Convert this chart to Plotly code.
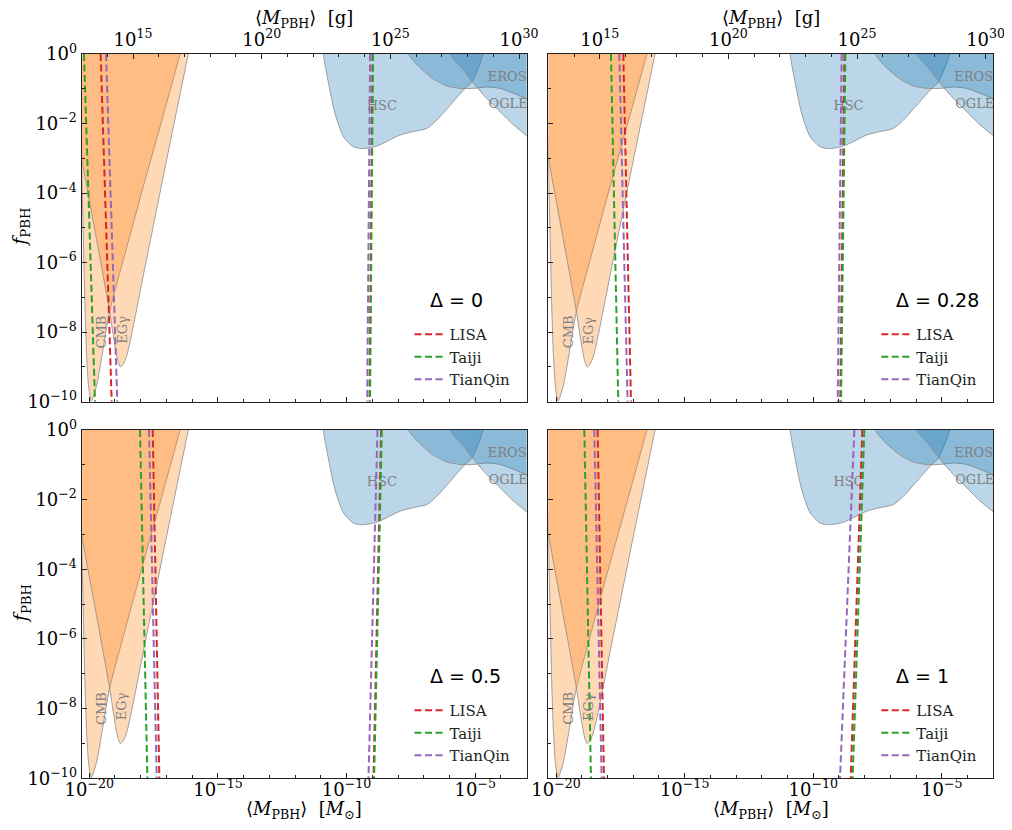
import plotly.graph_objects as go

# ---------------- data (log10 units) ----------------
LOG_MSUN_IN_G = 33.2986          # log10(M_sun / g)
x_range = [-20.301, -3.0]        # log10(<M_PBH>/M_sun)
y_range = [-10.0, 0.0]           # log10(f_PBH)

panel_deltas = ["0", "0.28", "0.5", "1"]

# evaporation constraints
cmb_logm = [-20.45, -20.36, -20.30, -20.23, -20.17, -20.10, -20.02, -19.92,
            -19.72, -19.50, -19.22, -18.52, -17.82, -17.12, -16.47, -16.10]
cmb_logf = [1.0, -1.5, -3.1, -5.3, -7.2, -8.7, -9.6, -9.98,
            -9.55, -8.65, -7.45, -5.5, -3.6, -1.75, 0.0, 1.0]
egg_logm = [-21.29, -20.30, -19.75, -19.22, -19.00, -18.88, -18.79, -18.68,
            -18.55, -17.80, -16.98, -16.15, -15.87]
egg_logf = [1.0, -3.0, -5.2, -7.36, -8.4, -8.85, -9.0, -8.92,
            -8.7, -6.0, -3.0, 0.0, 1.0]

# microlensing constraints
hsc_logm = [-10.95, -10.90, -10.70, -10.45, -10.12, -9.73, -9.41, -8.83,
            -7.92, -7.40, -6.88, -6.49, -5.97, -5.46, -5.13, -4.70, -4.60]
hsc_logf = [1.0, 0.0, -0.84, -1.71, -2.38, -2.67, -2.72, -2.65,
            -2.33, -2.23, -2.14, -1.90, -1.47, -1.04, -0.80, 0.0, 1.0]
eros_logm = [-7.75, -7.59, -7.14, -6.62, -6.10, -5.58, -5.07, -4.55,
             -4.03, -3.51, -2.99, -2.50, -2.50]
eros_logf = [1.0, 0.0, -0.40, -0.72, -0.92, -0.99, -0.99, -0.95,
             -0.99, -1.13, -1.30, -1.50, 1.0]
ogle_logm = [-6.10, -5.97, -5.46, -5.07, -4.55, -4.03, -3.51, -2.99, -2.50, -2.50]
ogle_logf = [1.0, 0.0, -0.46, -0.84, -1.28, -1.66, -2.04, -2.36, -2.65, 1.0]

# GW detector bounds, per panel (Delta = 0, 0.28, 0.5, 1):
# log10 mass (M_sun) of each dashed line at f=1 (top) and f=1e-10 (bottom)
lisa_light_top    = [-19.556, -17.385, -17.534, -18.383]
lisa_light_bottom = [-19.128, -17.087, -17.275, -18.137]
lisa_heavy_top    = [-8.99, -8.79, -8.657, -8.091]
lisa_heavy_bottom = [-9.11, -8.95, -8.955, -8.545]
taiji_light_top    = [-20.204, -17.865, -18.027, -18.901]
taiji_light_bottom = [-19.776, -17.580, -17.741, -18.642]
taiji_heavy_top    = [-8.97, -8.75, -8.63, -8.014]
taiji_heavy_bottom = [-9.09, -8.92, -8.93, -8.467]
tianqin_light_top    = [-19.348, -17.540, -17.677, -18.512]
tianqin_light_bottom = [-18.908, -17.217, -17.378, -18.227]
tianqin_heavy_top    = [-9.085, -8.895, -8.799, -8.402]
tianqin_heavy_bottom = [-9.20, -9.05, -9.149, -8.96]

detectors = ["LISA", "Taiji", "TianQin"]
det_colors = ["#d62728", "#2ca02c", "#9467bd"]
det_lines = [
    (lisa_light_top, lisa_light_bottom, lisa_heavy_top, lisa_heavy_bottom),
    (taiji_light_top, taiji_light_bottom, taiji_heavy_top, taiji_heavy_bottom),
    (tianqin_light_top, tianqin_light_bottom, tianqin_heavy_top, tianqin_heavy_bottom),
]

# region labels (log10 M, log10 f)
labels_h = ["HSC", "EROS", "OGLE"]
labels_h_logm = [-8.63, -3.76, -3.72]
labels_h_logf = [-1.51, -0.67, -1.47]
labels_v = ["CMB", "EGγ"]
labels_v_logm = [-19.52, -18.74]
labels_v_logf = [-7.99, -7.94]

# tick labels
x_major = [-20, -15, -10, -5]
x_major_text = ["10<sup>−20</sup>", "10<sup>−15</sup>", "10<sup>−10</sup>", "10<sup>−5</sup>"]
g_major = [15, 20, 25, 30]
g_major_text = ["10<sup>15</sup>", "10<sup>20</sup>", "10<sup>25</sup>", "10<sup>30</sup>"]
y_major = [0, -2, -4, -6, -8, -10]
y_major_text = ["10<sup>0</sup>", "10<sup>−2</sup>", "10<sup>−4</sup>", "10<sup>−6</sup>",
                "10<sup>−8</sup>", "10<sup>−10</sup>"]

# ---------------- layout geometry (page pixels) ----------------
OFF = 8                 # page body margin around the figure
W, H = 996, 814         # figure size so that the page is 1012 x 830
col_px = [(81.5, 526.7), (548.3, 993.3)]
row_px = [(54.0, 401.7), (430.0, 778.3)]


def fx(px):
    return (px - OFF) / W


def fy(py):
    return 1 - (py - OFF) / H


SERIF = "DejaVu Serif"
ORANGE = "rgba(255,127,14,0.3)"
BLUE = "rgba(31,119,180,0.3)"
EDGE = "#8a8a8a"

fig = go.Figure()
layout = dict(width=W, height=H, margin=dict(l=0, r=0, t=0, b=0, autoexpand=False),
              paper_bgcolor="white", plot_bgcolor="white",
              font=dict(family=SERIF, size=18, color="black"),
              annotations=[])


def p10(vals):
    return [10.0 ** float(v) for v in vals]


common_axis = dict(type="log", showgrid=False, zeroline=False, showline=True,
                   automargin=False, ticklabeloverflow="allow",
                   linecolor="#222", linewidth=1, ticks="inside", ticklen=5,
                   tickwidth=1, tickcolor="#222",
                   tickfont=dict(family=SERIF, size=18, color="black"))

for i in range(4):
    r, c = divmod(i, 2)
    xn = "" if i == 0 else str(i + 1)
    xa, ya = "x" + xn, "y" + xn
    x0, x1 = col_px[c]
    y0, y1 = row_px[r]
    xdom = [fx(x0), fx(x1)]
    ydom = [fy(y1), fy(y0)]

    layout["xaxis" + xn] = dict(
        common_axis, domain=xdom, anchor=ya, range=x_range, mirror=True,
        tickmode="array", tickvals=p10(x_major), ticktext=x_major_text,
        showticklabels=(r == 1), ticklabelstandoff=-5,
        minor=dict(tickmode="array",
                   tickvals=p10(list(range(-21, -2))),
                   ticks="inside", ticklen=3, tickcolor="#222", tickwidth=1))
    layout["yaxis" + xn] = dict(
        common_axis, domain=ydom, anchor=xa, range=y_range, mirror=True,
        tickmode="array", tickvals=p10(y_major), ticktext=y_major_text,
        showticklabels=(c == 0),
        minor=dict(tickmode="array", tickvals=p10(list(range(-10, 1))),
                   ticks="inside", ticklen=3, tickcolor="#222", tickwidth=1))

    # constraint regions
    for mx, fyv, col in [(cmb_logm, cmb_logf, ORANGE), (egg_logm, egg_logf, ORANGE),
                         (hsc_logm, hsc_logf, BLUE), (eros_logm, eros_logf, BLUE),
                         (ogle_logm, ogle_logf, BLUE)]:
        fig.add_trace(go.Scatter(
            x=p10(mx), y=p10(fyv), mode="lines", fill="toself", fillcolor=col,
            line=dict(color=EDGE, width=0.8, shape="spline", smoothing=0.7),
            hoverinfo="skip", showlegend=False, xaxis=xa, yaxis=ya))

    # horizontal region labels (clipped on axes)
    fig.add_trace(go.Scatter(
        x=p10(labels_h_logm), y=p10(labels_h_logf), mode="text", text=labels_h,
        textposition="middle center", cliponaxis=True,
        textfont=dict(family=SERIF, size=13, color="#808080"),
        hoverinfo="skip", showlegend=False, xaxis=xa, yaxis=ya))

    # rotated labels
    for t, lx, ly in zip(labels_v, labels_v_logm, labels_v_logf):
        layout["annotations"].append(dict(
            xref=xa, yref=ya, x=lx, y=ly, text=t, showarrow=False, textangle=-90,
            font=dict(family=SERIF, size=13, color="#808080")))

    # GW detector lines: upper panels are drawn against the top (gram) axis
    if r == 0:
        gx = "x" + str(5 + c)
        shift = LOG_MSUN_IN_G
    else:
        gx = xa
        shift = 0.0
    legend_name = "legend" if i == 0 else "legend" + str(i + 1)
    for name, colr, arrs in zip(detectors, det_colors, det_lines):
        lt, lb, ht, hb = arrs
        fig.add_trace(go.Scatter(
            x=[10.0 ** (lt[i] + shift), 10.0 ** (lb[i] + shift), None,
               10.0 ** (ht[i] + shift), 10.0 ** (hb[i] + shift)],
            y=[10.0 ** y_range[1], 10.0 ** y_range[0], None,
               10.0 ** y_range[1], 10.0 ** y_range[0]],
            mode="lines", name=name,
            line=dict(color=colr, width=2, dash="7px,3.5px"),
            hoverinfo="skip", showlegend=True, legend=legend_name,
            xaxis=gx, yaxis=ya))

    layout[legend_name] = dict(
        x=fx(x0 + 328), y=fy(y0 + 264), xanchor="left", yanchor="top",
        bgcolor="rgba(0,0,0,0)", borderwidth=0, tracegroupgap=0,
        font=dict(family=SERIF, size=15, color="#222"))

    # Delta label
    layout["annotations"].append(dict(
        xref="paper", yref="paper", x=fx(x0 + 346), y=fy(y0 + 246),
        xanchor="left", yanchor="middle", showarrow=False,
        text="Δ = " + panel_deltas[i],
        font=dict(family="DejaVu Sans", size=19, color="black")))

    # y-axis title
    if c == 0:
        layout["annotations"].append(dict(
            xref="paper", yref="paper", x=fx(21), y=fy((y0 + y1) / 2),
            xanchor="center", yanchor="middle", showarrow=False, textangle=-90,
            text="<i>f</i><sub>PBH</sub>", font=dict(family=SERIF, size=19)))
    # x-axis titles
    if r == 0:
        layout["annotations"].append(dict(
            xref="paper", yref="paper", x=fx((x0 + x1) / 2), y=fy(19),
            xanchor="center", yanchor="middle", showarrow=False,
            text="⟨<i>M</i><sub>PBH</sub>⟩  [g]", font=dict(family=SERIF, size=18)))
    else:
        layout["annotations"].append(dict(
            xref="paper", yref="paper", x=fx((x0 + x1) / 2), y=fy(810),
            xanchor="center", yanchor="middle", showarrow=False,
            text="⟨<i>M</i><sub>PBH</sub>⟩  [<i>M</i><sub>⊙</sub>]",
            font=dict(family=SERIF, size=18)))

# top axes in grams for the upper panels
for k, base in [(5, "x"), (6, "x2")]:
    bi = "" if base == "x" else "2"
    layout["xaxis" + str(k)] = dict(
        common_axis, overlaying=base, anchor="y" + bi, side="top",
        domain=layout["xaxis" + bi]["domain"],
        range=[x_range[0] + LOG_MSUN_IN_G, x_range[1] + LOG_MSUN_IN_G],
        tickmode="array", tickvals=p10(g_major), ticktext=g_major_text,
        minor=dict(tickmode="array", tickvals=p10(list(range(13, 31))),
                   ticks="inside", ticklen=3, tickcolor="#222", tickwidth=1))

fig.update_layout(**layout)
fig.write_html("out.html")
